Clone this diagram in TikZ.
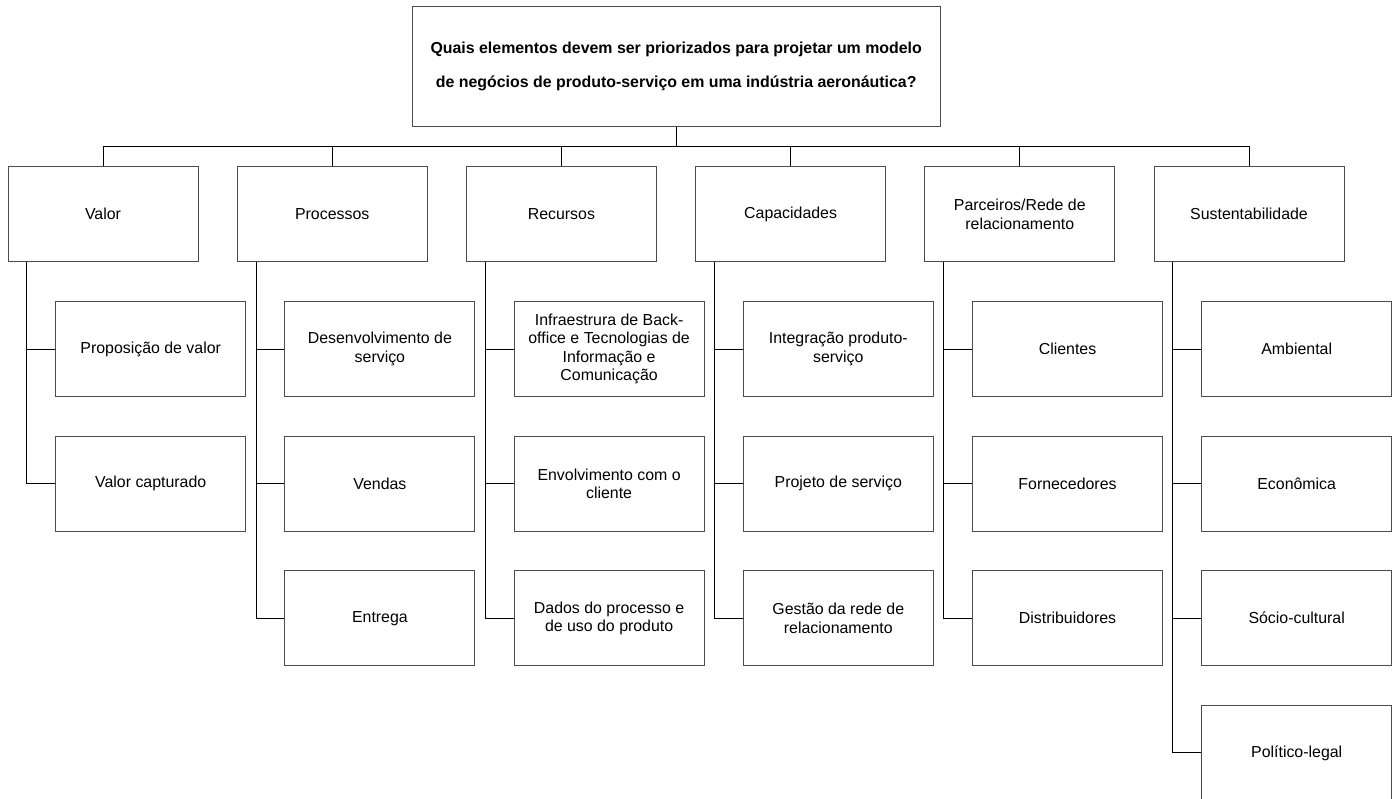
\documentclass[tikz,border=0pt]{standalone}
\usepackage{fontspec}
\setmainfont{Liberation Sans}
\begin{document}
\begin{tikzpicture}[x=1pt,y=-1pt,
  box/.style={draw=black!70, line width=0.9pt, minimum width=190pt, minimum height=95pt,
    inner sep=2pt, align=center, font=\fontsize{15.9}{18.4}\selectfont},
  titlebox/.style={box, minimum width=527.7pt, minimum height=120pt,
    font=\bfseries\fontsize{15.9}{34}\selectfont},
  link/.style={draw=black, line width=0.9pt}]
\useasboundingbox (0,0) rectangle (1400,798);

% root question
\node[titlebox] (top) at (676.2,66.7)
  {Quais elementos devem ser priorizados para projetar um modelo\\
   de negócios de produto-serviço em uma indústria aeronáutica?};

% first level
\node[box] (L1) at (103,214.2)    {Valor};
\node[box] (L2) at (332.2,214.2)  {Processos};
\node[box] (L3) at (561.4,214.2)  {Recursos};
\node[box] (L4) at (790.6,214.2)  {Capacidades};
\node[box] (L5) at (1019.8,214.2) {Parceiros/Rede de\\relacionamento};
\node[box] (L6) at (1249,214.2)   {Sustentabilidade};

% second level
\node[box] (C11) at (150.7,349.1) {Proposição de valor};
\node[box] (C12) at (150.7,483.6) {Valor capturado};

\node[box] (C21) at (379.9,349.1) {Desenvolvimento de\\serviço};
\node[box] (C22) at (379.9,483.6) {Vendas};
\node[box] (C23) at (379.9,618.2) {Entrega};

\node[box] (C31) at (609.1,349.1) {Infraestrura de Back-\\office e Tecnologias de\\Informação e\\Comunicação};
\node[box] (C32) at (609.1,483.6) {Envolvimento com o\\cliente};
\node[box] (C33) at (609.1,618.2) {Dados do processo e\\de uso do produto};

\node[box] (C41) at (838.3,349.1) {Integração produto-\\serviço};
\node[box] (C42) at (838.3,483.6) {Projeto de serviço};
\node[box] (C43) at (838.3,618.2) {Gestão da rede de\\relacionamento};

\node[box] (C51) at (1067.5,349.1) {Clientes};
\node[box] (C52) at (1067.5,483.6) {Fornecedores};
\node[box] (C53) at (1067.5,618.2) {Distribuidores};

\node[box] (C61) at (1296.7,349.1) {Ambiental};
\node[box] (C62) at (1296.7,483.6) {Econômica};
\node[box] (C63) at (1296.7,618.2) {Sócio-cultural};
\node[box] (C64) at (1296.7,752.8) {Político-legal};

% bus from the root to the first level
\coordinate (bus) at (0,146.7);
\foreach \i in {1,...,6}
  \draw[link] (top.south) |- (bus -| L\i.north) -- (L\i.north);

% side rails from each first-level box to its children
\foreach \i/\n in {1/2,2/3,3/3,4/3,5/3,6/4}{
  \coordinate (R\i) at ([xshift=19.3pt]L\i.south west);
  \foreach \j in {1,...,\n}
    \draw[link] (R\i) |- (C\i\j.west);
}
\end{tikzpicture}
\end{document}
